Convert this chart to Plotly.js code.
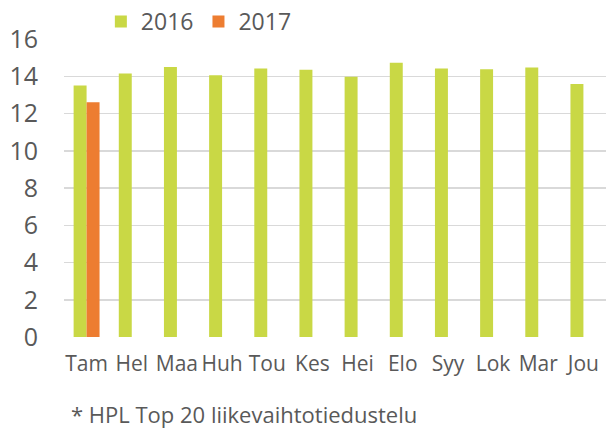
<!DOCTYPE html>
<html>
<head>
<meta charset="utf-8">
<script src="https://cdn.plot.ly/plotly-3.0.1.min.js"></script>
<style>html,body{margin:0;padding:0;overflow:hidden;background:#fff}</style>
</head>
<body>
<div id="chart" style="width:606px;height:428px"></div>
<script>
const months = ["Tam","Hel","Maa","Huh","Tou","Kes","Hei","Elo","Syy","Lok","Mar","Jou"];
const values2016 = [13.5,14.15,14.5,14.05,14.42,14.35,13.97,14.72,14.42,14.37,14.47,13.58];
const months2017 = ["Tam"];
const values2017 = [12.6];
const yTicks = [0,2,4,6,8,10,12,14,16];
const footnote = "* HPL Top 20 liikevaihtotiedustelu";

const textColor = "#595959";
const font = "'Open Sans', sans-serif";

const data = [
  {type:"bar", name:"2016", x:months, y:values2016, marker:{color:"#C9D845"}},
  {type:"bar", name:"2017", x:months2017, y:values2017, marker:{color:"#ED7D31"}}
];

const layout = {
  width:606, height:428,
  margin:{l:64, r:0, t:37, b:91},
  paper_bgcolor:"#fff", plot_bgcolor:"#fff",
  font:{family:font, color:textColor, size:21},
  barmode:"group", bargap:0.426, bargroupgap:0,
  showlegend:true,
  legend:{orientation:"h", x:0.068, xanchor:"left", y:1.06, yanchor:"middle",
          font:{size:23, color:textColor, family:font}, itemwidth:30, traceorder:"normal"},
  xaxis:{type:"category", categoryorder:"array", categoryarray:months,
         showgrid:false, zeroline:false, showline:false, ticks:"",
         tickfont:{size:21, color:textColor, family:font}, ticklabelstandoff:12, fixedrange:true},
  yaxis:{range:[0,16], tickvals:yTicks, showgrid:true, gridcolor:"#D9D9D9", gridwidth:1.5,
         zeroline:false, showline:false, ticks:"",
         tickfont:{size:25, color:textColor, family:font}, ticklabelstandoff:25, fixedrange:true},
  annotations:[{text:footnote, xref:"paper", yref:"paper", x:0.009, y:-0.257,
                xanchor:"left", yanchor:"middle", showarrow:false,
                font:{size:22, color:textColor, family:font}}]
};

Plotly.newPlot("chart", data, layout, {displayModeBar:false, staticPlot:true});
</script>
</body>
</html>
